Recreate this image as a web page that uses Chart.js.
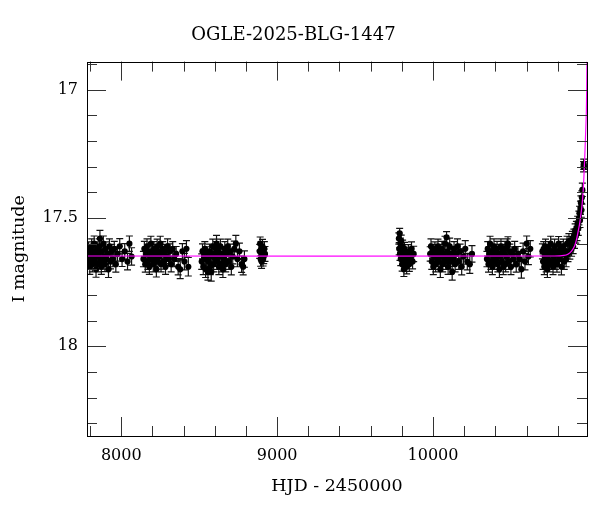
<!DOCTYPE html>
<html>
<head>
<meta charset="utf-8">
<script src="https://cdn.jsdelivr.net/npm/chart.js@4.4.1/dist/chart.umd.min.js"></script>
<style>
  html, body { margin: 0; padding: 0; background: #fff; }
  #wrap { width: 600px; height: 512px; }
</style>
</head>
<body>
<div id="wrap"><canvas id="lightCurve" width="600" height="512"></canvas></div>
<script>
// OGLE photometry, one array per season: [HJD-2450000, I mag, error]
const season1 = [
  [7782,17.64,0.026],[7786,17.67,0.028],[7790,17.62,0.027],[7794,17.66,0.029],[7798,17.69,0.030],[7802,17.63,0.026],[7806,17.65,0.028],[7810,17.61,0.029],[7814,17.68,0.030],[7818,17.64,0.027],
  [7822,17.66,0.028],[7826,17.60,0.030],[7830,17.67,0.029],[7834,17.63,0.027],[7838,17.70,0.031],[7842,17.65,0.028],[7846,17.62,0.027],[7850,17.68,0.030],[7855,17.64,0.028],[7859,17.61,0.029],
  [7863,17.58,0.032],[7867,17.66,0.028],[7872,17.69,0.030],[7876,17.63,0.027],[7881,17.67,0.029],[7885,17.60,0.030],[7890,17.65,0.028],[7895,17.68,0.029],[7900,17.62,0.027],[7906,17.66,0.028],
  [7912,17.64,0.027],[7918,17.70,0.032],[7924,17.61,0.029],[7931,17.67,0.028],[7938,17.63,0.027],[7946,17.66,0.030],[7955,17.62,0.029],[7965,17.68,0.031],[7976,17.64,0.028],[7990,17.61,0.030],
  [8005,17.66,0.029],[8022,17.63,0.030],[8040,17.67,0.032],[8052,17.60,0.030],[8066,17.65,0.034]
];
const season2 = [
  [8142,17.66,0.030],[8148,17.62,0.029],[8154,17.68,0.031],[8160,17.64,0.028],[8165,17.61,0.029],[8170,17.67,0.030],[8175,17.63,0.027],[8180,17.69,0.030],[8185,17.65,0.028],[8190,17.60,0.029],
  [8195,17.66,0.028],[8200,17.63,0.027],[8205,17.68,0.030],[8210,17.62,0.028],[8215,17.66,0.029],[8220,17.64,0.027],[8225,17.70,0.030],[8230,17.61,0.028],[8235,17.67,0.029],[8240,17.63,0.027],
  [8245,17.65,0.028],[8250,17.60,0.029],[8255,17.68,0.030],[8260,17.64,0.027],[8266,17.62,0.028],[8272,17.67,0.029],[8278,17.63,0.027],[8284,17.69,0.030],[8290,17.65,0.028],[8297,17.61,0.029],
  [8304,17.66,0.028],[8312,17.63,0.029],[8320,17.68,0.030],[8330,17.62,0.028],[8340,17.66,0.030],[8352,17.64,0.029],[8365,17.69,0.032],[8378,17.70,0.036],[8392,17.63,0.030],[8405,17.67,0.032],
  [8418,17.62,0.032],[8430,17.69,0.036]
];
const season3 = [
  [8516,17.67,0.030],[8521,17.63,0.029],[8526,17.69,0.031],[8531,17.65,0.029],[8536,17.62,0.028],[8541,17.70,0.032],[8546,17.66,0.029],[8551,17.64,0.028],[8556,17.71,0.032],[8561,17.67,0.030],
  [8566,17.63,0.028],[8571,17.69,0.031],[8577,17.71,0.036],[8582,17.65,0.029],[8587,17.61,0.028],[8592,17.68,0.030],[8597,17.64,0.028],[8602,17.66,0.029],[8607,17.62,0.028],[8611,17.60,0.032],
  [8616,17.67,0.030],[8621,17.63,0.028],[8626,17.69,0.031],[8631,17.65,0.029],[8636,17.61,0.028],[8641,17.68,0.030],[8646,17.64,0.028],[8652,17.70,0.032],[8658,17.66,0.029],[8664,17.62,0.028],
  [8670,17.68,0.030],[8676,17.64,0.029],[8683,17.61,0.028],[8690,17.67,0.030],[8698,17.63,0.028],[8706,17.69,0.032],[8715,17.65,0.029],[8725,17.62,0.030],[8735,17.60,0.032],[8745,17.66,0.030],
  [8758,17.63,0.032],[8772,17.68,0.032],[8782,17.69,0.032],[8790,17.66,0.032]
];
const season4 = [
  [8888,17.63,0.027],[8891,17.60,0.026],[8894,17.66,0.028],[8897,17.62,0.027],[8900,17.67,0.026],[8903,17.64,0.028],
  [8906,17.61,0.027],[8910,17.66,0.027],[8914,17.65,0.028],[8918,17.62,0.028],[8922,17.64,0.029]
];
const season5 = [
  [9781,17.58,0.022],[9783,17.62,0.024],[9786,17.56,0.020],[9788,17.64,0.025],[9791,17.60,0.022],[9793,17.66,0.026],[9796,17.59,0.023],[9799,17.63,0.025],[9802,17.68,0.027],[9805,17.61,0.024],
  [9809,17.65,0.026],[9813,17.70,0.028],[9817,17.62,0.025],[9821,17.67,0.027],[9826,17.64,0.026],[9831,17.69,0.028],[9836,17.66,0.027],[9842,17.63,0.026],[9848,17.68,0.028],[9855,17.65,0.027],
  [9862,17.62,0.027],[9869,17.67,0.028],[9876,17.64,0.030]
];
const season6 = [
  [9982,17.64,0.028],[9987,17.61,0.029],[9992,17.67,0.030],[9997,17.63,0.027],[10002,17.69,0.031],[10007,17.65,0.028],[10012,17.62,0.027],[10017,17.68,0.030],[10022,17.64,0.028],[10027,17.66,0.029],
  [10032,17.61,0.028],[10037,17.67,0.030],[10042,17.63,0.027],[10047,17.70,0.032],[10052,17.65,0.028],[10057,17.62,0.029],[10062,17.68,0.030],[10067,17.64,0.027],[10072,17.66,0.028],[10077,17.60,0.029],
  [10082,17.67,0.030],[10087,17.575,0.022],[10092,17.63,0.028],[10097,17.69,0.030],[10102,17.65,0.028],[10107,17.61,0.032],[10112,17.67,0.029],[10117,17.64,0.028],[10123,17.71,0.032],[10129,17.66,0.029],
  [10135,17.62,0.028],[10142,17.68,0.030],[10149,17.64,0.028],[10157,17.61,0.029],[10165,17.67,0.030],[10174,17.63,0.028],[10184,17.69,0.032],[10195,17.65,0.030],[10207,17.62,0.032],[10220,17.67,0.032],
  [10236,17.68,0.036],[10250,17.64,0.032]
];
const season7 = [
  [10346,17.66,0.030],[10351,17.62,0.028],[10356,17.68,0.031],[10361,17.64,0.028],[10366,17.60,0.029],[10371,17.67,0.030],[10376,17.63,0.027],[10381,17.69,0.031],[10386,17.65,0.028],[10391,17.61,0.029],
  [10396,17.67,0.030],[10401,17.63,0.027],[10406,17.66,0.028],[10411,17.62,0.029],[10416,17.68,0.030],[10421,17.64,0.027],[10426,17.70,0.032],[10431,17.65,0.028],[10436,17.61,0.029],[10441,17.67,0.030],
  [10446,17.63,0.027],[10451,17.69,0.031],[10456,17.64,0.028],[10461,17.62,0.029],[10466,17.68,0.030],[10471,17.65,0.028],[10476,17.61,0.029],[10481,17.60,0.027],[10487,17.67,0.030],[10493,17.63,0.028],
  [10500,17.69,0.031],[10507,17.64,0.028],[10515,17.66,0.030],[10524,17.62,0.029],[10534,17.68,0.031],[10545,17.64,0.029],[10556,17.66,0.030],[10567,17.70,0.034],[10578,17.63,0.032],[10590,17.67,0.032],
  [10601,17.60,0.030],[10612,17.65,0.032],[10624,17.62,0.032]
];
const season8 = [
  [10702,17.63,0.029],[10706,17.67,0.030],[10710,17.62,0.028],[10714,17.69,0.031],[10718,17.65,0.029],[10722,17.61,0.028],[10726,17.68,0.030],[10730,17.64,0.028],[10734,17.70,0.032],[10738,17.66,0.029],
  [10742,17.62,0.028],[10746,17.68,0.030],[10750,17.64,0.028],[10755,17.60,0.029],[10760,17.67,0.030],[10765,17.63,0.028],[10770,17.69,0.031],[10775,17.65,0.029],[10780,17.61,0.028],[10785,17.67,0.030],
  [10790,17.63,0.028],[10795,17.68,0.031],[10800,17.64,0.029],[10806,17.60,0.028],[10812,17.66,0.030],[10818,17.62,0.028],[10824,17.69,0.032],[10830,17.64,0.029],[10836,17.61,0.028],[10842,17.67,0.030],
  [10848,17.63,0.028],[10854,17.66,0.030],[10860,17.60,0.029],[10866,17.64,0.030],[10872,17.59,0.029],[10878,17.63,0.030],
  [10884,17.60,0.028],[10889,17.62,0.029],[10894,17.58,0.028],[10899,17.61,0.029],[10904,17.57,0.027],[10908,17.59,0.028],[10912,17.55,0.027],[10916,17.57,0.028],[10920,17.54,0.027],[10924,17.56,0.028],
  [10928,17.52,0.027],[10932,17.54,0.028],[10936,17.50,0.027],[10940,17.48,0.026],[10943,17.51,0.027],[10946,17.46,0.026],[10949,17.44,0.026],[10952,17.47,0.027],[10955,17.42,0.026],[10958,17.39,0.026],
  [10966,17.30,0.020],[10967,17.29,0.020],[10968,17.30,0.020]
];

// microlensing model curve
const modelHjd = [7780, 10780, 10840, 10868, 10890, 10909, 10920, 10930, 10940, 10948, 10956, 10963, 10968, 10973, 10978, 10984, 10988];
const modelMag = [17.648, 17.648, 17.646, 17.640, 17.628, 17.608, 17.585, 17.556, 17.525, 17.49, 17.45, 17.40, 17.34, 17.27, 17.19, 17.08, 16.89];

// axis ticks
const xMajorTicks = [8000, 9000, 10000];
const xMinorTicks = [7800, 8200, 8400, 8600, 8800, 9200, 9400, 9600, 9800, 10200, 10400, 10600, 10800];
const yMajorTicks = [17, 17.5, 18];
const yMinorTicks = [16.9, 17.1, 17.2, 17.3, 17.4, 17.6, 17.7, 17.8, 17.9, 18.1, 18.2, 18.3];

const seasons = [season1, season2, season3, season4, season5, season6, season7, season8];
const photometry = seasons.flat().map(p => ({ x: p[0], y: p[1], e: p[2] }));
const model = modelHjd.map((t, i) => ({ x: t, y: modelMag[i] }));

const serif = '"DejaVu Serif", "Liberation Serif", serif';

// error bars under the points, ticks + frame on top
const framePlugin = {
    id: 'framePlugin',
    beforeDatasetsDraw(chart) {
        const { ctx, chartArea: a, scales: { x, y } } = chart;
        ctx.save();
        ctx.beginPath();
        ctx.rect(a.left, a.top, a.right - a.left, a.bottom - a.top);
        ctx.clip();
        ctx.strokeStyle = '#111';
        ctx.lineWidth = 1.2;
        ctx.beginPath();
        chart.data.datasets[1].data.forEach(p => {
            const px = x.getPixelForValue(p.x);
            const y1 = y.getPixelForValue(p.y - p.e);
            const y2 = y.getPixelForValue(p.y + p.e);
            ctx.moveTo(px, y1); ctx.lineTo(px, y2);
            ctx.moveTo(px - 3.5, y1); ctx.lineTo(px + 3.5, y1);
            ctx.moveTo(px - 3.5, y2); ctx.lineTo(px + 3.5, y2);
        });
        ctx.stroke();
        ctx.restore();
    },
    afterDraw(chart) {
        const { ctx, chartArea: a, scales: { x, y } } = chart;
        ctx.save();
        ctx.strokeStyle = '#333';
        ctx.lineWidth = 1;
        ctx.beginPath();
        const xt = (v, len) => {
            const px = Math.round(x.getPixelForValue(v)) + 0.5;
            ctx.moveTo(px, a.bottom); ctx.lineTo(px, a.bottom - len);
            ctx.moveTo(px, a.top); ctx.lineTo(px, a.top + len);
        };
        const yt = (v, len) => {
            const py = Math.round(y.getPixelForValue(v)) + 0.5;
            ctx.moveTo(a.left, py); ctx.lineTo(a.left + len, py);
            ctx.moveTo(a.right, py); ctx.lineTo(a.right - len, py);
        };
        xMajorTicks.forEach(v => xt(v, 19));
        xMinorTicks.forEach(v => xt(v, 10));
        yMajorTicks.forEach(v => yt(v, 19));
        yMinorTicks.forEach(v => yt(v, 10));
        ctx.stroke();
        ctx.strokeStyle = '#000';
        ctx.strokeRect(Math.round(a.left) + 0.5, Math.round(a.top) + 0.5,
            Math.round(a.right - a.left), Math.round(a.bottom - a.top));
        ctx.restore();
    }
};

const ctx = document.getElementById('lightCurve').getContext('2d');
new Chart(ctx, {
    type: 'scatter',
    data: {
        datasets: [{
            type: 'line',
            data: model,
            borderColor: '#ff00ff',
            borderWidth: 1.2,
            pointRadius: 0,
            tension: 0.3,
            fill: false
        }, {
            data: photometry,
            backgroundColor: '#000',
            borderWidth: 0,
            pointRadius: 3.1
        }]
    },
    options: {
        responsive: false,
        animation: false,
        devicePixelRatio: 1,
        layout: { padding: { left: 0, right: 13, top: 0, bottom: 0 } },
        plugins: {
            legend: { display: false },
            tooltip: { enabled: false },
            title: {
                display: true,
                text: 'OGLE-2025-BLG-1447',
                color: '#000',
                font: { family: serif, size: 18, weight: 'normal' },
                padding: { top: 25, bottom: 15 }
            }
        },
        scales: {
            x: {
                type: 'linear',
                min: 7780,
                max: 10988,
                grid: { display: false, drawTicks: false },
                border: { display: false },
                afterBuildTicks: s => { s.ticks = xMajorTicks.map(v => ({ value: v })); },
                afterFit: s => { s.height = 76; },
                ticks: {
                    color: '#000',
                    padding: 10,
                    maxRotation: 0,
                    font: { family: serif, size: 16 },
                    callback: v => String(v)
                },
                title: {
                    display: true,
                    text: 'HJD - 2450000',
                    color: '#000',
                    font: { family: serif, size: 17.5 },
                    padding: { top: 0, bottom: 15 }
                }
            },
            y: {
                min: 16.89,
                max: 18.35,
                reverse: true,
                grid: { display: false, drawTicks: false },
                border: { display: false },
                afterBuildTicks: s => { s.ticks = yMajorTicks.map(v => ({ value: v })); },
                afterFit: s => { s.width = 87; },
                ticks: {
                    color: '#000',
                    padding: 9,
                    font: { family: serif, size: 16 },
                    callback: v => String(v)
                },
                title: {
                    display: true,
                    text: 'I magnitude',
                    color: '#000',
                    font: { family: serif, size: 17.5 },
                    padding: { top: 9, bottom: 0 }
                }
            }
        }
    },
    plugins: [framePlugin]
});
</script>
</body>
</html>
